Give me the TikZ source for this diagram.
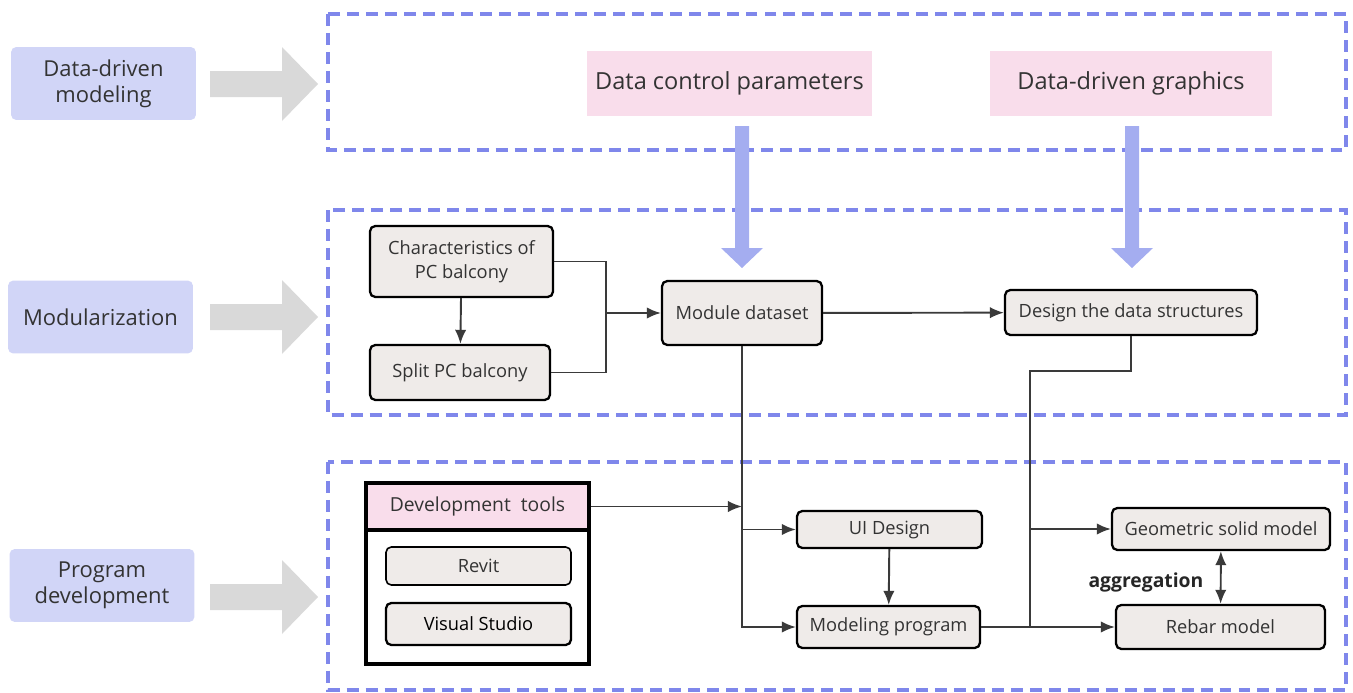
\documentclass[tikz,border=0pt]{standalone}
\usepackage{fontspec}
\setmainfont{Open Sans}
\usetikzlibrary{arrows.meta, positioning}

\definecolor{labblue}{HTML}{D1D5F7}
\definecolor{arrgray}{HTML}{D9D9D9}
\definecolor{dashblue}{HTML}{7F87EB}
\definecolor{pinkfill}{HTML}{F9DDEB}
\definecolor{flowblue}{HTML}{A4ADF0}
\definecolor{boxfill}{HTML}{EFEBE9}
\definecolor{linegray}{HTML}{3A3A3A}

\begin{document}
\begin{tikzpicture}[x=0.02cm, y=-0.02cm, >={Latex[length=8pt, width=6.5pt]}, line width=1.1pt,
    lab/.style={fill=labblue, rounded corners=3pt, minimum width=3.7cm, minimum height=1.46cm,
      align=center, text=black!80, font=\fontsize{12.5}{15}\selectfont},
    pinkbox/.style={fill=pinkfill, minimum height=1.3cm, text=black!80,
      font=\fontsize{13.4}{15}\selectfont},
    stage/.style={draw=dashblue, line width=2pt, dash pattern=on 6.8pt off 4pt},
    blk/.style={draw=black, line width=1.3pt, fill=boxfill, rounded corners=3pt, align=center,
      text=black!80, font=\fontsize{10.4}{13.5}\selectfont, inner sep=2pt},
    conn/.style={draw=linegray, ->}]
  \useasboundingbox (0,0) rectangle (1353,693);

  % left column
  \node[lab] (dmodel) at (103.5, 83.5) {Data-driven\\modeling};
  \node[lab] (modul) at (100.5, 317) {Modularization};
  \node[lab] (progdev) at (102, 585.5) {Program\\development};

  \foreach \c in {84, 317, 597}
    \fill[arrgray] (210, \c-13) -- (282, \c-13) -- (282, \c-37) -- (318, \c)
      -- (282, \c+37) -- (282, \c+13) -- (210, \c+13) -- cycle;

  % dashed stages
  \draw[stage] (328, 14) rectangle (1346, 150);
  \draw[stage] (328, 210) rectangle (1346, 415);
  \draw[stage] (328, 462) rectangle (1346, 690);

  % top stage
  \node[pinkbox, minimum width=5.7cm] (ctrl) at (729.5, 83.5) {Data control parameters};
  \node[pinkbox, minimum width=5.64cm] (graph) at (1131, 83.5) {Data-driven graphics};

  \foreach \c in {742, 1132}
    \fill[flowblue] (\c-7, 126) -- (\c+7, 126) -- (\c+7, 248) -- (\c+21, 248) -- (\c, 268)
      -- (\c-21, 248) -- (\c-7, 248) -- cycle;

  % middle stage
  \node[blk, minimum width=3.66cm, minimum height=1.42cm] (charac) at (461.5, 261.5) {Characteristics of\\PC balcony};
  \node[blk, minimum width=3.6cm, minimum height=1.1cm] (split) at (460, 372.5) {Split PC balcony};
  \node[blk, minimum width=3.2cm, minimum height=1.28cm] (module) at (742, 313) {Module dataset};
  \node[blk, minimum width=5.04cm, minimum height=0.9cm] (design) at (1131, 312.5) {Design the data structures};
  \coordinate (jmod) at (606, 313);

  \draw[conn] (charac) -- (split);
  \draw[draw=linegray] (charac.east) -| (jmod) |- (split.east);
  \draw[conn] (jmod) -- (module.west);
  \draw[conn] (module) -- (design);

  % bottom stage
  \node[draw=black, line width=2pt, minimum width=4.46cm, minimum height=3.62cm] (devbox) at (477.5, 573.5) {};
  \node[draw=black, line width=2pt, fill=pinkfill, minimum width=4.46cm, minimum height=0.94cm,
    text=black!80, font=\fontsize{11}{13}\selectfont] (devtools) at (477.5, 506.5) {Development\ \ tools};
  \node[blk, line width=0.9pt, minimum width=3.7cm, minimum height=0.76cm] (revit) at (478.5, 566) {Revit};
  \node[blk, minimum width=3.7cm, minimum height=0.84cm, text=black] (vstudio) at (478.5, 624) {Visual Studio};
  \node[blk, minimum width=3.7cm, minimum height=0.74cm] (uides) at (889.5, 529.5) {UI Design};
  \node[blk, minimum width=3.66cm, minimum height=0.84cm] (modprog) at (888.5, 627) {Modeling program};
  \node[blk, minimum width=4.36cm, minimum height=0.84cm] (geo) at (1221, 529) {Geometric solid model};
  \node[blk, minimum width=4.18cm, minimum height=0.88cm] (rebar) at (1220.5, 627) {Rebar model};
  \coordinate (jdes) at (1030, 371);

  \draw[conn] (devtools.east) -- (devtools.east -| module.south);
  \draw[conn] (module.south) |- (modprog.west);
  \draw[conn] (module.south) |- (uides.west);
  \draw[conn] (uides) -- (modprog);
  \draw[draw=linegray] (design.south) |- (jdes) -- (jdes |- modprog.east);
  \draw[conn] (jdes |- geo.west) -- (geo.west);
  \draw[conn] (modprog.east) -- (rebar.west);
  \draw[conn, <->] (geo) -- node[left=6pt, yshift=-3pt, text=black!85, font=\bfseries\fontsize{11}{13}\selectfont] (aggr) {aggregation} (rebar);
\end{tikzpicture}
\end{document}
